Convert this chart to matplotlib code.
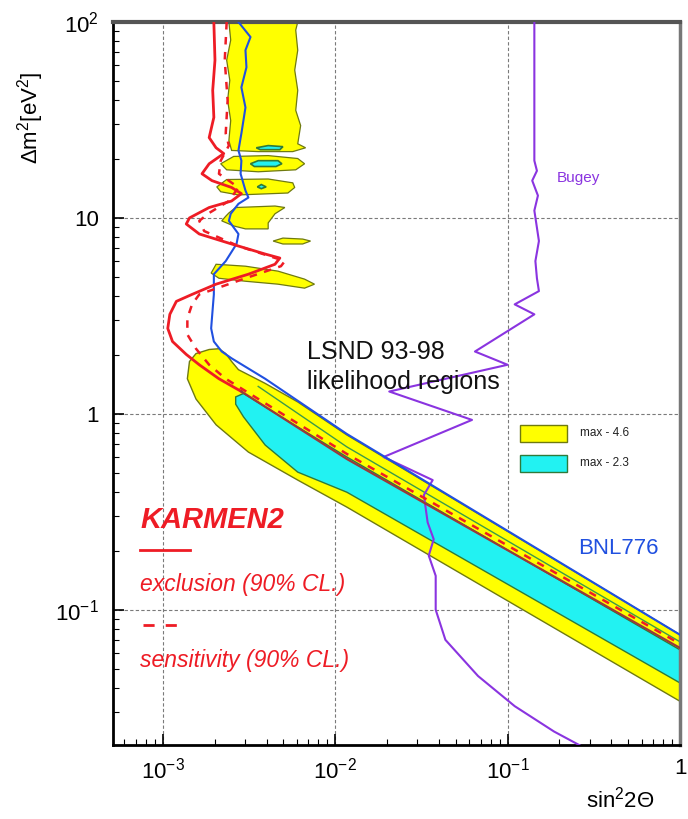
import matplotlib
matplotlib.use("Agg")
import matplotlib.pyplot as plt
from matplotlib.patches import Rectangle
from matplotlib.lines import Line2D

plt.rcParams["font.family"] = ["Liberation Sans", "DejaVu Sans"]
plt.rcParams["mathtext.fontset"] = "custom"
plt.rcParams["mathtext.rm"] = "Liberation Sans"
plt.rcParams["mathtext.it"] = "Liberation Sans:italic"

# ---- data: (sin^2 2theta, delta m^2) ----
karmen_excl_x = [1.98e-3, 2.01e-3, 1.95e-3, 1.98e-3, 1.86e-3, 2.04e-3, 2.26e-3, 1.86e-3,
                 1.69e-3, 1.93e-3, 2.51e-3, 2.86e-3, 2.51e-3, 1.86e-3, 1.43e-3, 1.37e-3,
                 1.63e-3, 2.51e-3, 3.93e-3, 4.78e-3, 4.48e-3, 3.14e-3, 2.04e-3, 1.48e-3,
                 1.20e-3, 1.10e-3, 1.07e-3, 1.14e-3, 1.37e-3, 1.63e-3, 2.12e-3, 2.86e-3,
                 1.17e-2, 1.0]
karmen_excl_y = [100, 63.8, 44.8, 32.6, 25.7, 22.8, 21.3, 18.9,
                 16.8, 15.5, 14.3, 13.3, 12.2, 11.3, 10.0, 9.31,
                 8.28, 7.36, 6.54, 6.24, 5.80, 5.16, 4.59, 4.07,
                 3.75, 3.22, 2.73, 2.34, 2.01, 1.78, 1.51, 1.30,
                 0.588, 0.0638]
n_excl_red = 32  # points drawn red, the rest runs through the LSND band

karmen_sens_x = [2.35e-3, 2.29e-3, 2.38e-3, 2.32e-3, 2.42e-3, 2.17e-3, 2.12e-3, 2.75e-3,
                 2.42e-3, 1.86e-3, 1.63e-3, 1.74e-3, 2.75e-3, 5.11e-3, 4.85e-3, 3.02e-3,
                 1.63e-3, 1.48e-3, 1.39e-3, 1.39e-3, 1.56e-3, 1.86e-3, 2.32e-3, 1.17e-2, 1.0]
karmen_sens_y = [100, 63.8, 39.8, 27.0, 23.4, 19.6, 16.8, 14.3,
                 12.2, 10.6, 9.66, 8.57, 7.18, 6.02, 5.67, 4.92,
                 4.07, 3.62, 3.07, 2.54, 2.15, 1.78, 1.51, 0.624, 0.0670]

bnl_x = [2.75e-3, 3.23e-3, 3.02e-3, 3.06e-3, 2.86e-3, 3.02e-3, 2.86e-3, 2.75e-3,
         2.86e-3, 2.83e-3, 3.02e-3, 3.14e-3, 2.75e-3, 2.48e-3, 2.42e-3, 2.75e-3,
         2.68e-3, 2.32e-3, 1.98e-3, 1.98e-3, 1.93e-3, 1.91e-3, 1.98e-3, 2.20e-3,
         2.51e-3, 3.93e-3, 1.17e-2, 1.0]
bnl_y = [100, 83.8, 71.8, 58.7, 46.4, 36.6, 27.0, 22.1,
         19.6, 16.8, 13.8, 12.7, 11.8, 10.5, 9.66, 8.28,
         7.36, 6.02, 5.16, 4.07, 3.07, 2.73, 2.34, 2.08,
         1.92, 1.51, 0.789, 0.0745]

bugey_x = [0.143, 0.143, 0.148, 0.139, 0.150, 0.143, 0.146, 0.152, 0.145, 0.148,
           0.152, 0.110, 0.143, 0.0647, 0.100, 0.0206, 0.0622, 0.0191, 0.0368, 0.0327,
           0.0344, 0.0373, 0.0349, 0.0383, 0.0383, 0.0436, 0.0674, 0.110, 0.186, 0.283]
bugey_y = [100, 19.6, 17.4, 15.5, 13.0, 10.9, 9.66, 7.62, 6.02, 4.92,
           4.23, 3.62, 3.22, 2.08, 1.78, 1.30, 0.931, 0.602, 0.459, 0.385,
           0.279, 0.229, 0.189, 0.149, 0.100, 0.0702, 0.0459, 0.0322, 0.0239, 0.0196]

# LSND max-4.6 region (yellow): main band
band_yel_x = [1.39e-3, 1.43e-3, 1.56e-3, 1.86e-3, 2.12e-3, 2.32e-3, 2.51e-3, 2.75e-3,
              3.93e-3, 6.07e-3, 1.17e-2, 1.0, 1.0, 1.17e-2, 6.07e-3, 3.14e-3, 2.04e-3, 1.56e-3]
band_yel_y = [1.51, 1.85, 2.03, 2.13, 2.15, 2.03, 1.85, 1.68,
              1.43, 1.15, 0.780, 0.0745, 0.0341, 0.334, 0.459, 0.638, 0.879, 1.19]
# LSND max-2.3 region (cyan): main band
band_cyan_x = [2.65e-3, 2.94e-3, 6.07e-3, 1.17e-2, 1.0, 1.0, 1.17e-2, 6.07e-3, 3.93e-3, 2.94e-3, 2.65e-3]
band_cyan_y = [1.22, 1.27, 0.857, 0.602, 0.0624, 0.0423, 0.398, 0.504, 0.693, 0.966, 1.12]
band_inner_x = [3.58e-3, 1.17e-2, 1.0]
band_inner_y = [1.38, 0.678, 0.0686]

# LSND islands at large delta m^2 (yellow)
islands_x = [
    [2.42e-3, 2.48e-3, 2.35e-3, 2.45e-3, 2.38e-3, 2.48e-3, 2.42e-3, 2.51e-3, 3.58e-3, 5.68e-3,
     6.74e-3, 6.07e-3, 6.31e-3, 5.91e-3, 6.07e-3, 5.83e-3, 6.07e-3, 5.91e-3, 6.07e-3],
    [2.17e-3, 2.58e-3, 4.09e-3, 6.07e-3, 6.65e-3, 5.91e-3, 3.58e-3, 2.35e-3],
    [2.06e-3, 2.35e-3, 4.09e-3, 5.68e-3, 5.83e-3, 5.32e-3, 2.75e-3, 2.17e-3],
    [2.42e-3, 2.65e-3, 4.48e-3, 5.11e-3, 4.48e-3, 4.09e-3, 4.09e-3, 3.02e-3, 2.58e-3, 2.20e-3, 2.32e-3],
    [4.37e-3, 4.98e-3, 6.48e-3, 7.20e-3, 6.48e-3, 4.98e-3],
    [2.04e-3, 3.02e-3, 4.66e-3, 6.65e-3, 7.59e-3, 6.65e-3, 4.66e-3, 3.02e-3, 2.12e-3, 1.91e-3],
]
islands_y = [
    [100, 80.9, 63.8, 50.4, 39.8, 31.4, 24.8, 22.1, 21.8, 21.8,
     22.8, 23.9, 29.6, 35.4, 44.8, 56.8, 71.8, 90.9, 100],
    [18.9, 20.6, 20.8, 20.1, 18.9, 17.6, 17.2, 17.6],
    [14.4, 15.7, 15.8, 15.1, 14.3, 13.4, 13.1, 13.6],
    [10.6, 11.3, 11.5, 11.3, 10.5, 9.43, 8.79, 8.79, 9.10, 9.66, 10.2],
    [7.62, 7.89, 7.80, 7.62, 7.36, 7.36],
    [5.80, 5.67, 5.35, 4.87, 4.59, 4.38, 4.59, 4.75, 4.92, 5.23],
]
# small max-2.3 spots inside the islands
spots_x = [
    [3.49e-3, 4.09e-3, 4.98e-3, 4.78e-3, 3.68e-3],
    [3.23e-3, 3.58e-3, 4.66e-3, 4.91e-3, 4.54e-3, 3.40e-3],
    [3.54e-3, 3.73e-3, 3.98e-3, 3.73e-3],
]
spots_y = [
    [22.8, 23.4, 23.1, 22.3, 22.3],
    [18.9, 19.6, 19.6, 18.9, 18.3, 18.3],
    [14.4, 14.8, 14.4, 14.1],
]

legend_labels = ["max - 4.6", "max - 2.3"]

YEL, YEL_EDGE = "#ffff00", "#6f7a10"
CYAN, CYAN_EDGE = "#22f2f2", "#2f7a3a"
RED, BROWN = "#ee1c25", "#9a3a3a"
BLUE, PURPLE = "#2050e0", "#8a34e0"

fig = plt.figure(figsize=(6.88, 8.19), dpi=100)
ax = fig.add_axes([113 / 688, 74 / 819, 567 / 688, 723 / 819])
ax.set_xscale("log")
ax.set_yscale("log")
ax.set_xlim(5.15e-4, 1.0)
ax.set_ylim(0.0204, 100)

for xs, ys in zip(islands_x, islands_y):
    ax.fill(xs, ys, facecolor=YEL, edgecolor=YEL_EDGE, lw=0.9, zorder=2)
ax.fill(band_yel_x, band_yel_y, facecolor=YEL, edgecolor=YEL_EDGE, lw=1.0, zorder=2)
ax.fill(band_cyan_x, band_cyan_y, facecolor=CYAN, edgecolor=CYAN_EDGE, lw=1.0, zorder=2.2)
for xs, ys in zip(spots_x, spots_y):
    ax.fill(xs, ys, facecolor=CYAN, edgecolor=CYAN_EDGE, lw=1.2, zorder=2.2)
ax.plot(band_inner_x, band_inner_y, color="#3c9a4a", lw=1.0, zorder=2.3)

ax.plot(bugey_x, bugey_y, color=PURPLE, lw=1.5, zorder=3)
ax.plot(bnl_x, bnl_y, color=BLUE, lw=1.5, zorder=3.2)
ax.plot(karmen_sens_x, karmen_sens_y, color=RED, lw=1.8, dashes=(3, 3), zorder=3.4)
ax.plot(karmen_excl_x[:n_excl_red], karmen_excl_y[:n_excl_red], color=RED, lw=2.0, zorder=3.5)
ax.plot(karmen_excl_x[n_excl_red - 1:], karmen_excl_y[n_excl_red - 1:], color=BROWN, lw=1.6, zorder=3.5)

ax.grid(True, which="major", color="#7a7a7a", lw=0.8, linestyle=(0, (3, 2)))
ax.set_axisbelow(True)
ax.tick_params(which="both", direction="in", top=False, right=False, labelsize=16)
ax.tick_params(which="major", length=8, width=1.2)
ax.tick_params(which="minor", length=4, width=0.8)
ax.tick_params(axis="y", pad=10)
ax.tick_params(axis="x", pad=9)
ax.set_xticks([1e-3, 1e-2, 1e-1, 1])
ax.set_xticklabels(["$10^{-3}$", "$10^{-2}$", "$10^{-1}$", "1"])
ax.set_yticks([1e-1, 1, 10, 100])
ax.set_yticklabels(["$10^{-1}$", "1", "10", "$10^{2}$"])
for side, lw, col in (("left", 2.0, "black"), ("bottom", 2.0, "black"),
                      ("top", 3.0, "#555555"), ("right", 2.5, "#777777")):
    ax.spines[side].set_linewidth(lw)
    ax.spines[side].set_color(col)

fig.text(31 / 688, 1 - 118 / 819, "Δm$^2$[eV$^2$]", rotation=90, ha="center", va="center", fontsize=16)
fig.text(620 / 688, 1 - 800 / 819, "sin$^2$2Θ", ha="center", va="center", fontsize=16)

fig.text(307 / 688, 1 - 352 / 819, "LSND 93-98", ha="left", va="center", fontsize=18, color="#111111")
fig.text(307 / 688, 1 - 382 / 819, "likelihood regions", ha="left", va="center", fontsize=18, color="#111111")
fig.text(557 / 688, 1 - 178 / 819, "Bugey", ha="left", va="center", fontsize=11, color=PURPLE)
fig.text(578 / 688, 1 - 548 / 819, "BNL776", ha="left", va="center", fontsize=16, color=BLUE)

fig.text(140 / 688, 1 - 520 / 819, "KARMEN2", ha="left", va="center", fontsize=21,
         fontweight="bold", fontstyle="italic", color=RED)
fig.add_artist(Line2D([140 / 688, 190 / 688], [1 - 550 / 819] * 2, color=RED, lw=2.0))
fig.text(140 / 688, 1 - 585 / 819, "exclusion (90% CL.)", ha="left", va="center", fontsize=16.5,
         fontstyle="italic", color=RED)
fig.add_artist(Line2D([143 / 688, 186 / 688], [1 - 625 / 819] * 2, color=RED, lw=2.0, dashes=(4, 4)))
fig.text(140 / 688, 1 - 660 / 819, "sensitivity (90% CL.)", ha="left", va="center", fontsize=16.5,
         fontstyle="italic", color=RED)

for i, (fc, ec) in enumerate(((YEL, YEL_EDGE), (CYAN, CYAN_EDGE))):
    y0 = 1 - (442 + 30 * i) / 819
    fig.add_artist(Rectangle((520 / 688, y0), 47 / 688, 17 / 819, facecolor=fc, edgecolor=ec,
                             lw=1.0, transform=fig.transFigure))
    fig.text(580 / 688, y0 + 8.5 / 819, legend_labels[i], ha="left", va="center", fontsize=8.5,
             color="#222222")

fig.savefig("out.png", dpi=100, facecolor="white")
